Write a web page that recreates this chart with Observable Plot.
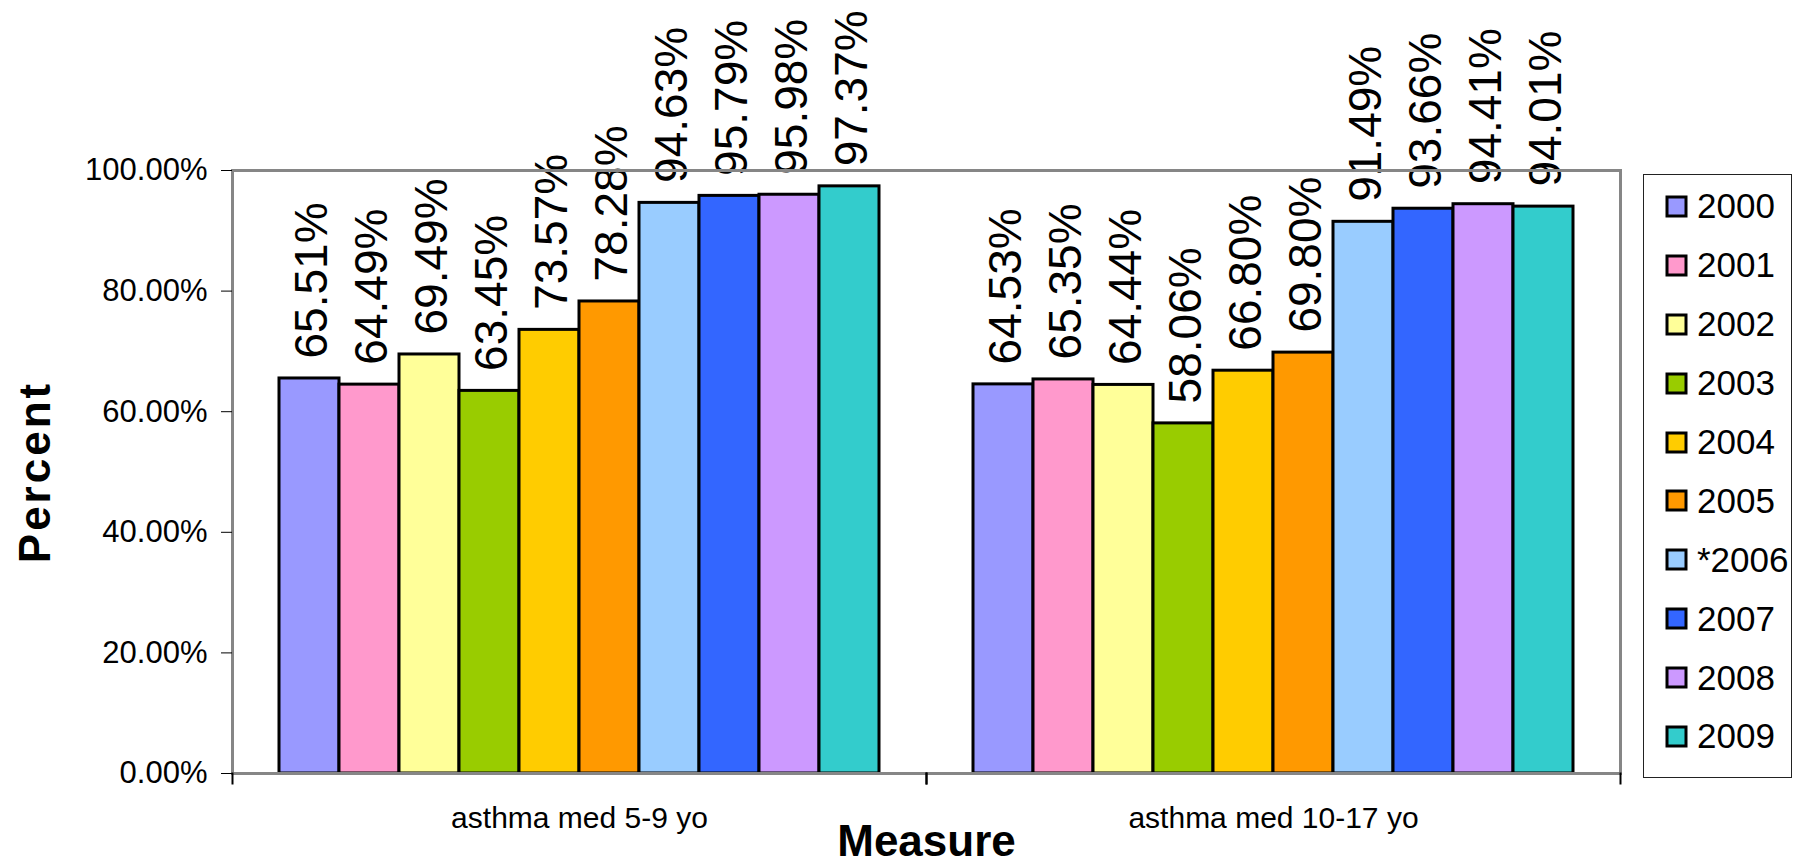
<!DOCTYPE html>
<html>
<head>
<meta charset="utf-8">
<script src="https://cdn.jsdelivr.net/npm/d3@7"></script>
<script src="https://cdn.jsdelivr.net/npm/@observablehq/plot@0.6"></script>
<style>
  html, body { margin: 0; padding: 0; background: #fff; }
  #wrap { position: relative; width: 1800px; height: 866px; }
  #wrap svg g[aria-label="y-axis label"] text { font-size: 44px; font-weight: bold; letter-spacing: 3px; }
  #wrap svg g[aria-label="fx-axis label"] text { font-size: 44px; font-weight: bold; }
  .lg-swatches { position: absolute; left: 1643px; top: 174px; width: 149px; height: 604px;
    border: 1.5px solid #222; box-sizing: border-box; padding-top: 2px;
    font-family: "Liberation Sans", Arial, sans-serif; font-size: 35px; color: #000; margin: 0; background: #fff; }
  .lg-swatches .lg-swatch { height: 58.9px; display: flex; align-items: center; padding: 0; }
  .lg-swatches .lg-swatch svg { overflow: visible; margin-left: 23px; margin-right: 11px; }
  .lg-swatches .lg-swatch svg rect { stroke: #000; stroke-width: 3px; }
</style>
</head>
<body>
<div id="wrap"></div>
<script>
// ---- data ----
const measures = ["asthma med 5-9 yo", "asthma med 10-17 yo"];
const years = ["2000", "2001", "2002", "2003", "2004", "2005", "*2006", "2007", "2008", "2009"];
const values5to9 = [65.51, 64.49, 69.49, 63.45, 73.57, 78.28, 94.63, 95.79, 95.98, 97.37];
const values10to17 = [64.53, 65.35, 64.44, 58.06, 66.80, 69.80, 91.49, 93.66, 94.41, 94.01];
const yearColors = ["#9999FF", "#FF99CC", "#FFFF99", "#99CC00", "#FFCC00", "#FF9900", "#99CCFF", "#3366FF", "#CC99FF", "#33CCCC"];
const yTicks = [0, 20, 40, 60, 80, 100];

const seriesByMeasure = [values5to9, values10to17];
const rows = measures.flatMap((m, mi) => years.map((y, yi) => ({measure: m, year: y, value: seriesByMeasure[mi][yi]})));

const font = "'Liberation Sans', Arial, sans-serif";

const chart = Plot.plot({
  width: 1800,
  height: 866,
  marginLeft: 232,
  marginRight: 180,
  marginTop: 170,
  marginBottom: 93,
  style: {fontFamily: font, background: "#fff", overflow: "visible", color: "#000"},
  fx: {domain: measures, padding: 0},
  x: {domain: years, paddingInner: 0, paddingOuter: 0.755, axis: null},
  y: {domain: [0, 100]},
  color: {domain: years, range: yearColors},
  marks: [
    Plot.barY(rows, {fx: "measure", x: "year", y: "value", fill: "year", stroke: "#000", strokeWidth: 3}),
    Plot.text(rows, {fx: "measure", x: "year", y: "value", text: d => d.value.toFixed(2) + "%",
      rotate: -90, textAnchor: "start", dy: -20, dx: 3, fontSize: 46, fill: "#000"}),
    Plot.frame({facet: "super", stroke: "#868686", strokeWidth: 3}),
    Plot.frame({anchor: "left", stroke: "#000", strokeWidth: 2, insetTop: 603, insetBottom: -10}),
    Plot.frame({anchor: "right", stroke: "#000", strokeWidth: 2, insetTop: 603, insetBottom: -10}),
    Plot.axisY({ticks: yTicks, tickFormat: d => d.toFixed(2) + "%", tickSize: 11, tickPadding: 14,
      fontSize: 31, stroke: "#000", label: "Percent", labelArrow: "none", labelAnchor: "center", labelOffset: 214}),
    Plot.axisFx({anchor: "bottom", tickSize: 0, tickPadding: 33, fontSize: 30,
      label: "Measure", labelArrow: "none", labelAnchor: "center", labelOffset: 82})
  ]
});

const wrap = document.getElementById("wrap");
wrap.appendChild(chart);
const legend = chart.legend("color", {legend: "swatches", columns: 1, swatchSize: 19, className: "lg"});
wrap.appendChild(legend);
</script>
</body>
</html>
